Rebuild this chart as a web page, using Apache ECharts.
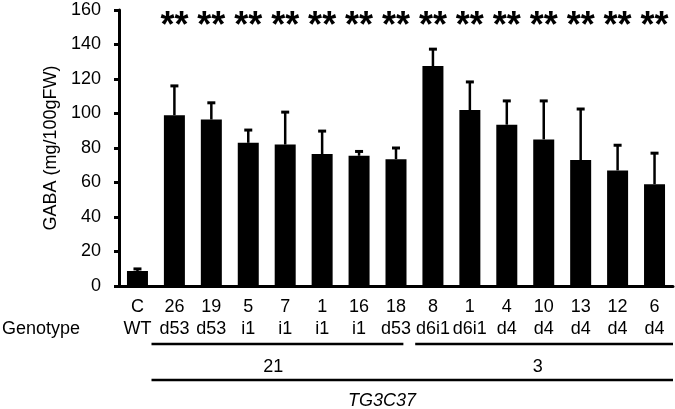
<!DOCTYPE html>
<html>
<head>
<meta charset="utf-8">
<script src="https://cdn.jsdelivr.net/npm/echarts@6/dist/echarts.min.js"></script>
<style>
  html, body { margin: 0; padding: 0; background: #fff; }
  #main { width: 675px; height: 409px; }
</style>
</head>
<body>
<div id="main"></div>
<script>
// 系统 / 基因型
var lines = ['C', '26', '19', '5', '7', '1', '16', '18', '8', '1', '4', '10', '13', '12', '6']
var genotypes = ['WT', 'd53', 'd53', 'i1', 'i1', 'i1', 'i1', 'd53', 'd6i1', 'd6i1', 'd4', 'd4', 'd4', 'd4', 'd4']
// GABA 平均值与误差上限
var gaba = [8.7, 99, 96.5, 83, 82, 76.5, 75.5, 73.5, 127.5, 102, 93.5, 85, 73, 67, 59]
var errTop = [9.9, 116, 106.2, 90.4, 100.8, 89.8, 78, 80, 137.3, 118.3, 107.3, 107.3, 102.6, 81.6, 77]
var signif = ['', '**', '**', '**', '**', '**', '**', '**', '**', '**', '**', '**', '**', '**', '**']
var yTicks = [0, 160, 20]

var font = 'Liberation Sans, Arial, Helvetica, sans-serif'
var fs = 18
var categories = lines.map(function (l, i) { return l + '\n' + genotypes[i] })

var myChart = echarts.init(document.getElementById('main'))

myChart.setOption({
  animation: false,
  textStyle: { fontFamily: font, color: '#000' },
  grid: { left: 119, right: 2, top: 10, bottom: 123, outerBoundsMode: 'none' },
  xAxis: {
    type: 'category',
    data: categories,
    axisLine: { lineStyle: { color: '#000', width: 3 } },
    axisTick: { show: false },
    axisLabel: { color: '#000', fontSize: fs, lineHeight: 22, margin: 10, interval: 0, fontFamily: font }
  },
  yAxis: {
    type: 'value',
    min: yTicks[0],
    max: yTicks[1],
    interval: yTicks[2],
    name: 'GABA (mg/100gFW)',
    nameLocation: 'middle',
    nameGap: 56,
    nameTextStyle: { color: '#000', fontSize: fs, fontFamily: font },
    axisLine: { show: true, lineStyle: { color: '#000', width: 3 } },
    axisTick: { show: true, length: 5, lineStyle: { color: '#000', width: 3 } },
    axisLabel: { color: '#000', fontSize: fs, margin: 18, fontFamily: font },
    splitLine: { show: false }
  },
  series: [
    {
      type: 'bar',
      data: gaba,
      barWidth: 21,
      itemStyle: { color: '#000' },
      z: 2
    },
    {
      type: 'custom',
      z: 3,
      data: errTop.map(function (v, i) { return [i, gaba[i], v] }),
      renderItem: function (params, api) {
        var lo = api.coord([api.value(0), api.value(1)])
        var hi = api.coord([api.value(0), api.value(2)])
        return {
          type: 'group',
          children: [
            { type: 'line', shape: { x1: hi[0], y1: lo[1], x2: hi[0], y2: hi[1] }, style: { stroke: '#000', lineWidth: 2.5 } },
            { type: 'line', shape: { x1: hi[0] - 4, y1: hi[1], x2: hi[0] + 4, y2: hi[1] }, style: { stroke: '#000', lineWidth: 3 } }
          ]
        }
      }
    },
    {
      type: 'scatter',
      symbolSize: 0,
      silent: true,
      data: signif.map(function (s, i) { return [i, 155] }),
      label: {
        show: true,
        position: 'inside',
        offset: [0, 8],
        fontSize: 36,
        fontWeight: 'bold',
        color: '#000',
        opacity: 1,
        fontFamily: font,
        formatter: function (p) { return signif[p.dataIndex] }
      }
    }
  ]
})

// 分组标注
function px (i) { return myChart.convertToPixel({ xAxisIndex: 0 }, i) }
var band = px(1) - px(0)
var yAxisPx = myChart.convertToPixel({ yAxisIndex: 0 }, 0)
var line1 = yAxisPx + 58
var line2 = yAxisPx + 94
var lineStyle = { stroke: '#000', lineWidth: 2.5 }
var txt = fs + 'px ' + font

myChart.setOption({
  graphic: [
    { type: 'text', left: 2, top: line1 - 24, style: { text: 'Genotype', font: txt, fill: '#000' } },
    { type: 'line', shape: { x1: px(1) - 0.62 * band, y1: line1, x2: px(7) + 0.2 * band, y2: line1 }, style: lineStyle },
    { type: 'line', shape: { x1: px(8) - 0.48 * band, y1: line1, x2: px(14) + 0.5 * band, y2: line1 }, style: lineStyle },
    { type: 'text', x: px(4) - 12, y: line1 + 23, style: { text: '21', font: txt, fill: '#000', align: 'center', verticalAlign: 'middle' } },
    { type: 'text', x: px(11) - 6, y: line1 + 23, style: { text: '3', font: txt, fill: '#000', align: 'center', verticalAlign: 'middle' } },
    { type: 'line', shape: { x1: px(1) - 0.62 * band, y1: line2, x2: px(14) + 0.5 * band, y2: line2 }, style: lineStyle },
    { type: 'text', x: px(7) - 14, y: line2 + 21, style: { text: 'TG3C37', font: 'italic ' + txt, fill: '#000', align: 'center', verticalAlign: 'middle' } }
  ]
})
</script>
</body>
</html>
